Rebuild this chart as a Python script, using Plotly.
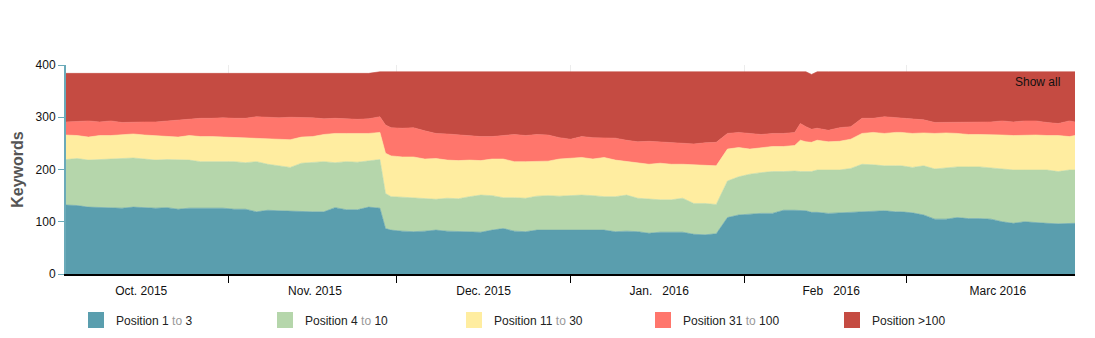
import plotly.graph_objects as go

dates = [
    "2015-10-03", "2015-10-05", "2015-10-07", "2015-10-09", "2015-10-11", "2015-10-13", "2015-10-15",
    "2015-10-17", "2015-10-19", "2015-10-21", "2015-10-23", "2015-10-25", "2015-10-27", "2015-10-29", "2015-10-31",
    "2015-11-02", "2015-11-04", "2015-11-06", "2015-11-08", "2015-11-10", "2015-11-12", "2015-11-14",
    "2015-11-16", "2015-11-18", "2015-11-20", "2015-11-22", "2015-11-24", "2015-11-26", "2015-11-28", "2015-11-29", "2015-11-30",
    "2015-12-02", "2015-12-04", "2015-12-06", "2015-12-08", "2015-12-10", "2015-12-12", "2015-12-14",
    "2015-12-16", "2015-12-18", "2015-12-20", "2015-12-22", "2015-12-24", "2015-12-26", "2015-12-28", "2015-12-30",
    "2016-01-01", "2016-01-03", "2016-01-05", "2016-01-07", "2016-01-09", "2016-01-11", "2016-01-13",
    "2016-01-15", "2016-01-17", "2016-01-19", "2016-01-21", "2016-01-23", "2016-01-25", "2016-01-27", "2016-01-29", "2016-01-31",
    "2016-02-02", "2016-02-04", "2016-02-06", "2016-02-08", "2016-02-10", "2016-02-11", "2016-02-12", "2016-02-13",
    "2016-02-14", "2016-02-16", "2016-02-18", "2016-02-20", "2016-02-22", "2016-02-24", "2016-02-26", "2016-02-28", "2016-02-29",
    "2016-03-02", "2016-03-04", "2016-03-06", "2016-03-08", "2016-03-10", "2016-03-12", "2016-03-14",
    "2016-03-16", "2016-03-18", "2016-03-20", "2016-03-22", "2016-03-24", "2016-03-26", "2016-03-28", "2016-03-30", "2016-03-31",
]

pos_1_3 = [
    132, 131, 128, 127, 126, 126, 128, 127, 126, 127, 124, 126, 126, 126, 126,
    124, 124, 119, 122, 121, 120, 119, 119, 119, 127, 123, 123, 128, 126, 87, 84,
    82, 81, 82, 84, 82, 81, 81, 80, 84, 87, 82, 81, 84, 84, 84,
    84, 84, 85, 84, 81, 82, 81, 78, 80, 80, 80, 76, 75, 77, 108, 113,
    115, 116, 116, 122, 122, 122, 121, 118, 118, 116, 117, 118, 119, 119, 121, 119, 119,
    117, 113, 105, 105, 108, 106, 106, 105, 100, 97, 100, 98, 97, 96, 97, 97,
]
pos_4_10 = [
    87, 90, 90, 92, 95, 95, 94, 93, 92, 92, 94, 92, 89, 89, 88,
    91, 89, 96, 88, 86, 84, 93, 95, 96, 86, 92, 91, 88, 93, 67, 64,
    65, 65, 63, 59, 63, 63, 67, 71, 66, 59, 64, 64, 65, 66, 65,
    66, 67, 65, 64, 67, 69, 64, 65, 62, 62, 65, 59, 60, 56, 70, 73,
    76, 78, 80, 74, 75, 74, 75, 78, 81, 83, 82, 84, 91, 90, 86, 88, 88,
    87, 94, 96, 98, 97, 99, 99, 98, 101, 102, 99, 101, 102, 100, 102, 102,
]
pos_11_30 = [
    47, 44, 44, 46, 44, 45, 46, 46, 47, 44, 44, 47, 48, 48, 48,
    47, 48, 45, 48, 50, 53, 50, 49, 52, 56, 54, 55, 53, 52, 77, 78,
    77, 78, 75, 78, 73, 73, 70, 66, 70, 74, 69, 70, 67, 66, 71,
    71, 72, 70, 75, 70, 64, 67, 67, 70, 68, 65, 74, 72, 74, 61, 56,
    48, 48, 48, 48, 49, 60, 57, 56, 57, 54, 55, 56, 59, 62, 62, 64, 64,
    65, 63, 68, 67, 64, 62, 62, 64, 65, 66, 67, 67, 66, 69, 64, 66,
]
pos_31_100 = [
    25, 27, 31, 26, 28, 24, 23, 25, 26, 30, 32, 32, 35, 35, 37,
    36, 37, 41, 42, 42, 43, 38, 36, 30, 29, 28, 27, 28, 30, 54, 54,
    55, 56, 54, 48, 50, 49, 47, 46, 43, 45, 52, 50, 51, 50, 41,
    37, 40, 41, 38, 42, 41, 41, 44, 41, 42, 40, 40, 44, 45, 30, 29,
    30, 25, 25, 25, 25, 32, 29, 25, 23, 22, 26, 24, 29, 27, 32, 28, 27,
    28, 25, 21, 20, 21, 24, 23, 24, 27, 26, 27, 27, 25, 23, 30, 26,
]
pos_over_100 = [
    93, 92, 91, 93, 91, 94, 93, 93, 93, 91, 90, 87, 86, 86, 85,
    86, 86, 83, 84, 85, 84, 84, 85, 87, 86, 87, 88, 87, 86, 102, 107,
    108, 107, 113, 118, 119, 121, 122, 124, 124, 122, 120, 122, 120, 121, 126,
    129, 124, 126, 126, 127, 131, 134, 133, 134, 135, 137, 138, 136, 135, 118, 116,
    118, 120, 118, 118, 116, 99, 105, 105, 108, 112, 107, 105, 89, 89, 86, 88, 89,
    90, 92, 97, 97, 97, 96, 97, 96, 94, 96, 94, 94, 97, 99, 94, 96,
]

series_names = [
    "Position 1 <span style='color:#999'>to</span> 3",
    "Position 4 <span style='color:#999'>to</span> 10",
    "Position 11 <span style='color:#999'>to</span> 30",
    "Position 31 <span style='color:#999'>to</span> 100",
    "Position &gt;100",
]
series_values = [pos_1_3, pos_4_10, pos_11_30, pos_31_100, pos_over_100]
series_colors = ["#5a9eae", "#b5d6ab", "#ffeda0", "#ff766c", "#c54b42"]

month_label_dates = ["2015-10-16 10:00", "2015-11-16 10:00", "2015-12-16 12:00",
                     "2016-01-16 20:00", "2016-02-16 12:00", "2016-03-17 06:00"]
month_labels = ["Oct. 2015", "Nov. 2015", "Dec. 2015",
                "Jan.\u00a0\u00a0\u00a02016", "Feb\u00a0\u00a0\u00a02016", "Marc 2016"]
month_starts = ["2015-11-01", "2015-12-01", "2016-01-01", "2016-02-01", "2016-03-01"]

FONT = "Arial, Liberation Sans, sans-serif"

fig = go.Figure()
for name, vals, col in zip(series_names, series_values, series_colors):
    fig.add_trace(go.Scatter(
        x=dates, y=vals, name=name, stackgroup="one", mode="lines",
        line=dict(width=0.6, color=col), fillcolor=col, showlegend=False,
        hoverinfo="x+y+name",
    ))
for name, col in zip(series_names, series_colors):
    fig.add_trace(go.Scatter(
        x=[None], y=[None], name=name, mode="markers",
        marker=dict(symbol="square", size=17, color=col), showlegend=True,
    ))

fig.update_layout(
    width=1095, height=338,
    margin=dict(l=66, r=20, t=65, b=64, autoexpand=False),
    paper_bgcolor="white", plot_bgcolor="white",
    font=dict(family=FONT, size=12, color="#111"),
    showlegend=True,
    legend=dict(
        orientation="h", xref="container", yref="container", traceorder="normal",
        x=76 / 1095, y=1 - 320 / 338, xanchor="left", yanchor="middle",
        entrywidth=144, entrywidthmode="pixels",
        font=dict(family=FONT, size=12, color="#222"),
        itemclick=False, itemdoubleclick=False,
    ),
    xaxis=dict(
        type="date", range=[dates[0], dates[-1]], automargin=False,
        tickmode="array", tickvals=month_label_dates, ticktext=month_labels,
        ticks="outside", ticklen=5, tickcolor="rgba(0,0,0,0)",
        showgrid=False, showline=True, linecolor="#000", linewidth=2,
        tickfont=dict(family=FONT, size=12, color="#111"),
        minor=dict(tickmode="array", tickvals=month_starts, ticks="outside",
                   ticklen=7, tickcolor="#000", tickwidth=1,
                   showgrid=True, gridcolor="#ececec", gridwidth=1),
        zeroline=False, fixedrange=True,
    ),
    yaxis=dict(
        range=[0, 400], tickvals=[0, 100, 200, 300, 400], automargin=False,
        ticks="outside", ticklen=6, tickcolor="#6aaab9", tickwidth=1,
        showline=True, linecolor="#6aaab9", linewidth=2,
        showgrid=True, gridcolor="#ececec", gridwidth=1,
        zeroline=False,
        tickfont=dict(family=FONT, size=12, color="#111"),
        title=dict(text="<b>Keywords</b>", font=dict(family=FONT, size=16, color="#555"), standoff=8),
        fixedrange=True,
    ),
    annotations=[dict(
        text="Show all", xref="paper", yref="paper",
        x=(1062 - 66) / 1009, y=(274.3 - 82) / 209, xanchor="right", yanchor="middle",
        showarrow=False, font=dict(family=FONT, size=12, color="#111"),
    )],
)

fig.write_html("out.html")
